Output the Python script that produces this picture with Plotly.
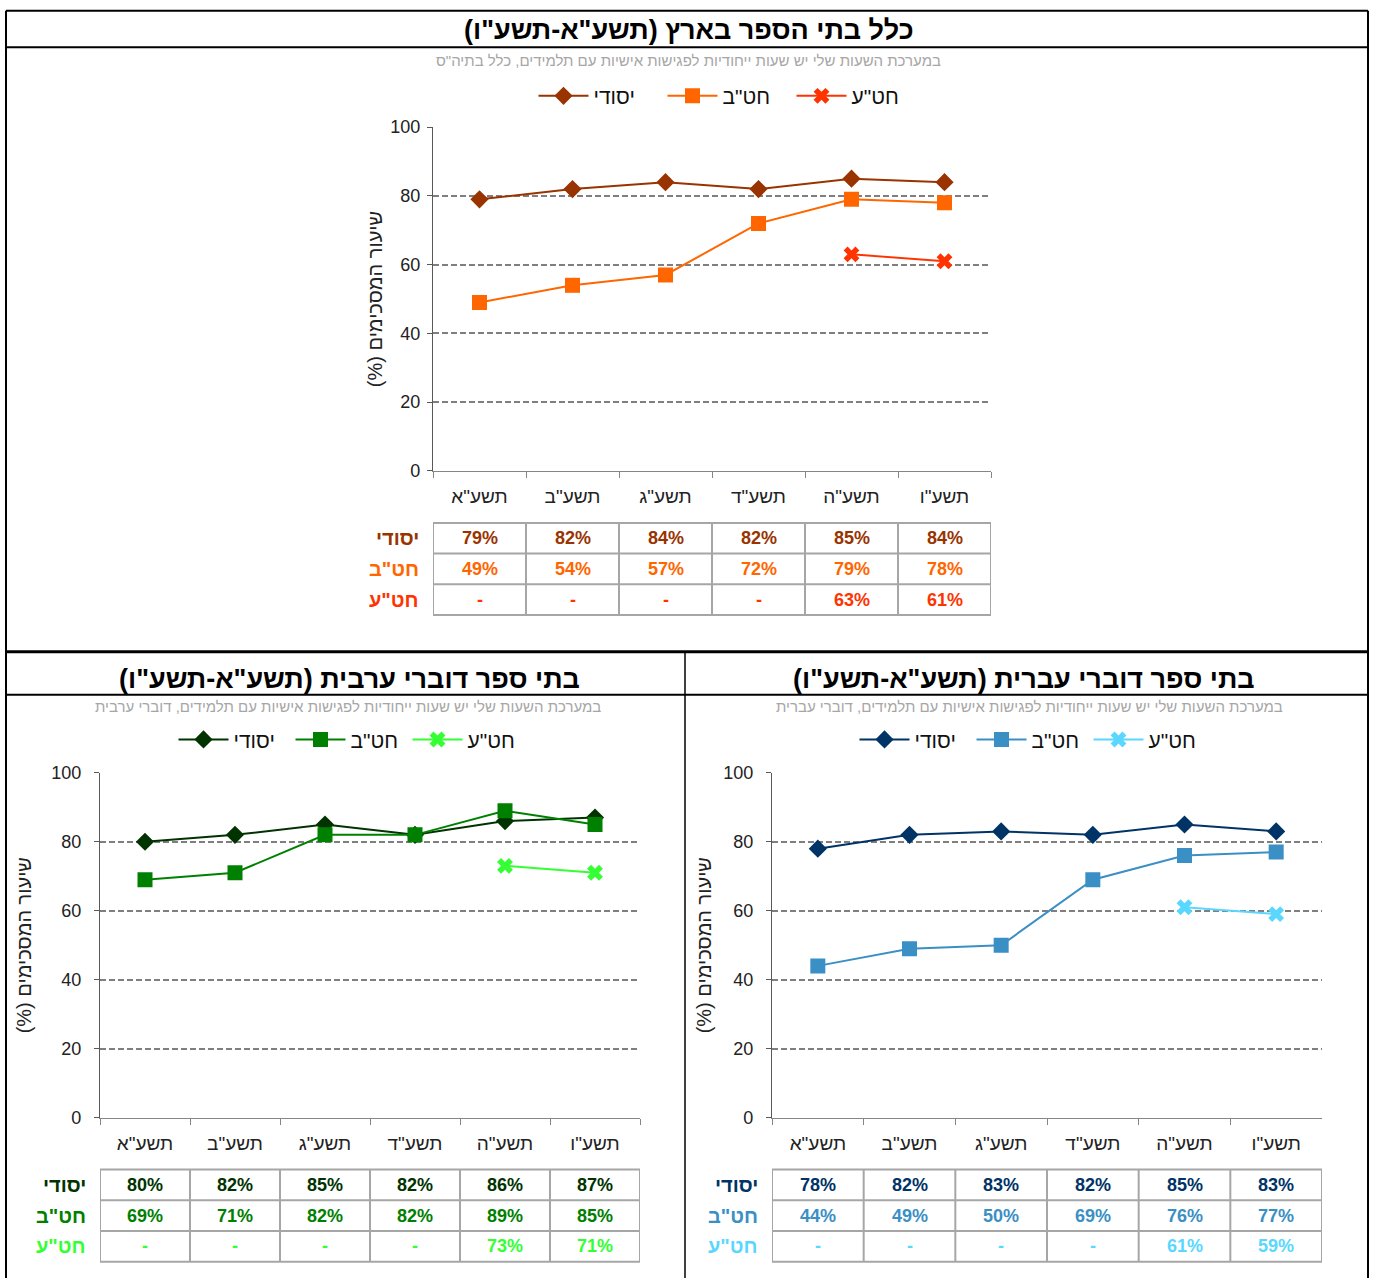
import plotly.graph_objects as go

W, H = 1373, 1288

# ---------------- data ----------------
years = ['תשע"א', 'תשע"ב', 'תשע"ג', 'תשע"ד', 'תשע"ה', 'תשע"ו']
series_names = ['יסודי', 'חט"ב', 'חט"ע']

all_yesodi = [79, 82, 84, 82, 85, 84]
all_hatab = [49, 54, 57, 72, 79, 78]
all_hatae = [None, None, None, None, 63, 61]

arab_yesodi = [80, 82, 85, 82, 86, 87]
arab_hatab = [69, 71, 82, 82, 89, 85]
arab_hatae = [None, None, None, None, 73, 71]

heb_yesodi = [78, 82, 83, 82, 85, 83]
heb_hatab = [44, 49, 50, 69, 76, 77]
heb_hatae = [None, None, None, None, 61, 59]

y_ticks = [0, 20, 40, 60, 80, 100]

RLM = "\u200f"
title_all = 'כלל בתי הספר בארץ (תשע"א-תשע"ו)'
title_arab = 'בתי ספר דוברי ערבית (תשע"א-תשע"ו)'
title_heb = 'בתי ספר דוברי עברית (תשע"א-תשע"ו)'
sub_all = 'במערכת השעות שלי יש שעות ייחודיות לפגישות אישיות עם תלמידים, כלל בתיה"ס'
sub_arab = 'במערכת השעות שלי יש שעות ייחודיות לפגישות אישיות עם תלמידים, דוברי ערבית'
sub_heb = 'במערכת השעות שלי יש שעות ייחודיות לפגישות אישיות עם תלמידים, דוברי עברית'
y_title = 'שיעור המסכימים (%)'

# ---------------- style ----------------
FONT = "Liberation Sans, Arial, DejaVu Sans, sans-serif"
symbols = ['diamond', 'square', 'x']
sizes = [14, 15, 14]

# small vertical correction so that positions measured on the reference land in place
VS, VOFF = 0.985, 9.8


def fx(px):
    return px / W


def fy(py):
    v = 1 - ((py - VOFF) / VS) / H
    return min(max(v, 0.0), 0.9995)


panels = [
    dict(values=[all_yesodi, all_hatab, all_hatae],
         colors=['#993300', '#FF6600', '#FF3300'],
         x0=433, x1=991, ybot=471, ytop=127,
         title=title_all, tx=689, ty=30, sub=sub_all, sx=688, sy=60,
         lx=727, ly=96, entry=64, tab_top=523, standoff=2, tls=3),
    dict(values=[arab_yesodi, arab_hatab, arab_hatae],
         colors=['#003300', '#008000', '#33FF33'],
         x0=100, x1=640, ybot=1118, ytop=773,
         title=title_arab, tx=349, ty=679, sub=sub_arab, sx=348, sy=707,
         lx=349, ly=740, entry=52, tab_top=1170, standoff=14, tls=9),
    dict(values=[heb_yesodi, heb_hatab, heb_hatae],
         colors=['#003366', '#3A8FC5', '#5AD7FF'],
         x0=772, x1=1322, ybot=1118, ytop=773,
         title=title_heb, tx=1024, ty=679, sub=sub_heb, sx=1029, sy=707,
         lx=1030, ly=740, entry=52, tab_top=1170, standoff=6, tls=9),
]

ROW_H = 30.7
GRID = '#7f7f7f'
TABLE_LINE = '#a6a6a6'

fig = go.Figure()
annotations = []
shapes = []
layout_axes = {}

for idx, p in enumerate(panels):
    n = idx + 1
    xa = 'x' if n == 1 else f'x{n}'
    ya = 'y' if n == 1 else f'y{n}'
    xkey = 'xaxis' if n == 1 else f'xaxis{n}'
    ykey = 'yaxis' if n == 1 else f'yaxis{n}'
    leg = 'legend' if n == 1 else f'legend{n}'

    for name, vals, col, sym, sz in zip(series_names, p['values'], p['colors'], symbols, sizes):
        fig.add_trace(go.Scatter(
            x=years, y=vals, mode='lines+markers', name=name,
            line=dict(color=col, width=2),
            marker=dict(symbol=sym, size=sz, color=col),
            xaxis=xa, yaxis=ya, legend=leg, connectgaps=False,
            hoverinfo='skip'))

    layout_axes[xkey] = dict(
        domain=[fx(p['x0']), fx(p['x1'])], anchor=ya,
        type='category', categoryorder='array', categoryarray=years,
        range=[-0.5, 5.5], showline=True, linecolor='#868686', linewidth=1.3,
        ticks='outside', tickson='boundaries', ticklen=6, tickcolor='#868686',
        showgrid=False, zeroline=False, ticklabelstandoff=8,
        tickfont=dict(family=FONT, size=19, color='#222222'))
    layout_axes[ykey] = dict(
        domain=[fy(p['ybot']), fy(p['ytop'])], anchor=xa,
        range=[0, 100], tickvals=y_ticks, showline=True, linecolor='#595959',
        linewidth=1.3, ticks='outside', ticklen=5, tickcolor='#595959',
        showgrid=True, gridcolor=GRID, griddash='6px,3px', gridwidth=1.6,
        zeroline=False, ticklabelstandoff=p['tls'],
        tickfont=dict(family=FONT, size=18, color='#222222'),
        title=dict(text=y_title + RLM, standoff=p['standoff'],
                   font=dict(family=FONT, size=20, color='#222222')))

    fig.update_layout({leg: dict(
        orientation='h', x=fx(p['lx']), xanchor='center',
        y=fy(p['ly']), yanchor='middle', bgcolor='rgba(0,0,0,0)',
        font=dict(family=FONT, size=21, color='#111111'),
        itemwidth=50, entrywidth=p['entry'], entrywidthmode='pixels',
        traceorder='normal', itemclick=False, itemdoubleclick=False)})

    # titles
    annotations.append(dict(
        text='<b>' + p['title'] + RLM + '</b>', x=fx(p['tx']), y=fy(p['ty']),
        xref='paper', yref='paper', showarrow=False, xanchor='center', yanchor='middle',
        font=dict(family=FONT, size=27, color='#000000')))
    annotations.append(dict(
        text=p['sub'], x=fx(p['sx']), y=fy(p['sy']),
        xref='paper', yref='paper', showarrow=False, xanchor='center', yanchor='middle',
        font=dict(family=FONT, size=15, color='#a6a6a6')))

    # data table
    top = p['tab_top']
    for r, (name, vals, col) in enumerate(zip(series_names, p['values'], p['colors'])):
        yc = fy(top + (r + 0.5) * ROW_H)
        annotations.append(dict(
            text='<b>' + name + '</b>', x=-0.5, xref=xa, y=yc, yref='paper',
            xanchor='right', yanchor='middle', xshift=-12, showarrow=False,
            font=dict(family=FONT, size=20, color=col)))
        for i, v in enumerate(vals):
            txt = '-' if v is None else f'{v}%'
            annotations.append(dict(
                text='<b>' + txt + '</b>', x=i, xref=xa, y=yc, yref='paper',
                xanchor='center', yanchor='middle', showarrow=False,
                font=dict(family=FONT, size=18, color=col)))
    for k in range(7):
        shapes.append(dict(type='line', xref=xa, yref='paper',
                           x0=k - 0.5, x1=k - 0.5, y0=fy(top), y1=fy(top + 3 * ROW_H),
                           line=dict(color=TABLE_LINE, width=2)))
    for r in range(4):
        shapes.append(dict(type='line', xref=xa, yref='paper',
                           x0=-0.5, x1=5.5, y0=fy(top + r * ROW_H), y1=fy(top + r * ROW_H),
                           line=dict(color=TABLE_LINE, width=2)))


# panel borders
def hline(py, x0, x1, w):
    return dict(type='line', xref='paper', yref='paper', x0=fx(x0), x1=fx(x1),
                y0=fy(py), y1=fy(py), line=dict(color='black', width=w))


def vline(px, y0, y1, w):
    return dict(type='line', xref='paper', yref='paper', x0=fx(px), x1=fx(px),
                y0=fy(y0), y1=0, line=dict(color='black', width=w))


shapes += [
    hline(3, 6, 1368, 2),
    hline(47, 6, 1368, 2),
    hline(652, 6, 1368, 3),
    hline(695, 6, 1368, 2),
    vline(6, 3, 1290, 2),
    vline(1368, 3, 1290, 2),
    vline(685, 652, 1290, 1.5),
]

fig.update_layout(**layout_axes)
fig.update_layout(
    width=W, height=H, margin=dict(l=0, r=0, t=0, b=0),
    paper_bgcolor='white', plot_bgcolor='white',
    font=dict(family=FONT), showlegend=True,
    annotations=annotations, shapes=shapes)

fig.write_html(
    "out.html",
    config={'displayModeBar': False},
    post_script="document.documentElement.style.margin='0';"
                "document.body.style.margin='0';"
                "document.body.style.overflow='hidden';")
